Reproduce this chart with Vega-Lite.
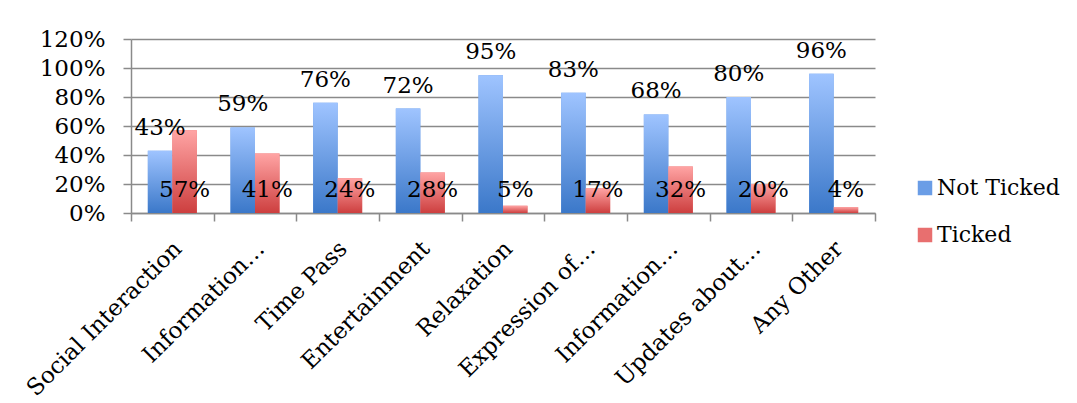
{
  "$schema": "https://vega.github.io/schema/vega-lite/v6.json",
  "width": 744,
  "height": 174,
  "autosize": "none",
  "padding": {"left": 131, "top": 39, "right": 202, "bottom": 190},
  "background": "white",
  "config": {
    "font": "DejaVu Serif",
    "view": {"stroke": null},
    "axis": {"labelColor": "black", "labelFontSize": 23, "labelFont": "DejaVu Serif", "domainColor": "#8a8a8a", "tickColor": "#8a8a8a", "domainWidth": 1.5, "tickWidth": 1.5, "gridColor": "#8a8a8a", "gridWidth": 1.5, "labelOverlap": false}
  },
  "data": {
    "values": [
      {"category": "Social Interaction", "series": "Not Ticked", "value": 0.43},
      {"category": "Social Interaction", "series": "Ticked", "value": 0.57},
      {"category": "Information…#1", "series": "Not Ticked", "value": 0.59},
      {"category": "Information…#1", "series": "Ticked", "value": 0.41},
      {"category": "Time Pass", "series": "Not Ticked", "value": 0.76},
      {"category": "Time Pass", "series": "Ticked", "value": 0.24},
      {"category": "Entertainment", "series": "Not Ticked", "value": 0.72},
      {"category": "Entertainment", "series": "Ticked", "value": 0.28},
      {"category": "Relaxation", "series": "Not Ticked", "value": 0.95},
      {"category": "Relaxation", "series": "Ticked", "value": 0.05},
      {"category": "Expression of…", "series": "Not Ticked", "value": 0.83},
      {"category": "Expression of…", "series": "Ticked", "value": 0.17},
      {"category": "Information…#2", "series": "Not Ticked", "value": 0.68},
      {"category": "Information…#2", "series": "Ticked", "value": 0.32},
      {"category": "Updates about…", "series": "Not Ticked", "value": 0.80},
      {"category": "Updates about…", "series": "Ticked", "value": 0.20},
      {"category": "Any Other", "series": "Not Ticked", "value": 0.96},
      {"category": "Any Other", "series": "Ticked", "value": 0.04}
    ]
  },
  "encoding": {
    "xOffset": {
      "field": "series",
      "type": "nominal",
      "sort": ["Not Ticked", "Ticked"],
      "scale": {"paddingInner": 0, "paddingOuter": 0.687}
    }
  },
  "resolve": {"axis": {"x": "independent"}},
  "layer": [
    {
      "mark": {"type": "bar"},
      "encoding": {
        "x": {
          "field": "category",
          "type": "nominal",
          "sort": null,
          "scale": {"paddingInner": 0, "paddingOuter": 0},
          "axis": {
            "orient": "bottom",
            "title": null,
            "labels": false,
            "tickBand": "extent",
            "tickSize": 8
          }
        },
        "y": {
          "field": "value",
          "type": "quantitative",
          "scale": {"domain": [0, 1.2]},
          "axis": {
            "title": null,
            "values": [0, 0.2, 0.4, 0.6, 0.8, 1.0, 1.2],
            "tickCount": 7,
            "format": ".0%",
            "grid": true,
            "tickSize": 8,
            "labelPadding": 18
          }
        },
        "color": {
          "field": "series",
          "type": "nominal",
          "sort": ["Not Ticked", "Ticked"],
          "scale": {"domain": ["Not Ticked", "Ticked"], "range": ["#6A9DE6", "#E86F6F"]},
          "legend": {
            "title": null,
            "orient": "none",
            "legendX": 783,
            "legendY": 138,
            "symbolType": "square",
            "symbolSize": 210,
            "symbolStrokeWidth": 0,
            "labelFontSize": 22,
            "labelFont": "DejaVu Serif",
            "labelColor": "black",
            "labelOffset": 1,
            "rowPadding": 25
          }
        }
      }
    },
    {
      "mark": {"type": "bar"},
      "encoding": {
        "x": {
          "field": "category",
          "type": "nominal",
          "sort": null,
          "axis": {
            "orient": "bottom",
            "title": null,
            "labelAngle": -45,
            "labelAlign": "right",
            "labelBaseline": "top",
            "labelExpr": "replace(datum.value, /#\\d/, '')",
            "ticks": false,
            "domain": false,
            "labelPadding": 24,
            "labelOffset": -2,
            "labelLimit": 0
          }
        },
        "y": {"field": "value", "type": "quantitative"},
        "fill": {
          "condition": {
            "test": "datum.series === 'Not Ticked'",
            "value": {"gradient": "linear", "x1": 0, "y1": 0, "x2": 0, "y2": 1, "stops": [{"offset": 0, "color": "#9FC4FF"}, {"offset": 1, "color": "#3B78C9"}]}
          },
          "value": {"gradient": "linear", "x1": 0, "y1": 0, "x2": 0, "y2": 1, "stops": [{"offset": 0, "color": "#FFA4A4"}, {"offset": 1, "color": "#CD3F3F"}]}
        }
      }
    },
    {
      "transform": [{"filter": "datum.series === 'Not Ticked'"}],
      "mark": {"type": "text", "baseline": "alphabetic", "dy": -16, "fontSize": 23, "font": "DejaVu Serif", "color": "black"},
      "encoding": {
        "x": {"field": "category", "type": "nominal", "sort": null, "axis": null},
        "y": {"field": "value", "type": "quantitative"},
        "text": {"field": "value", "type": "quantitative", "format": ".0%"}
      }
    },
    {
      "transform": [{"filter": "datum.series === 'Ticked'"}],
      "mark": {"type": "text", "baseline": "alphabetic", "fontSize": 23, "font": "DejaVu Serif", "color": "black"},
      "encoding": {
        "x": {"field": "category", "type": "nominal", "sort": null, "axis": null},
        "y": {"datum": 0.11, "type": "quantitative"},
        "text": {"field": "value", "type": "quantitative", "format": ".0%"}
      }
    }
  ]
}
